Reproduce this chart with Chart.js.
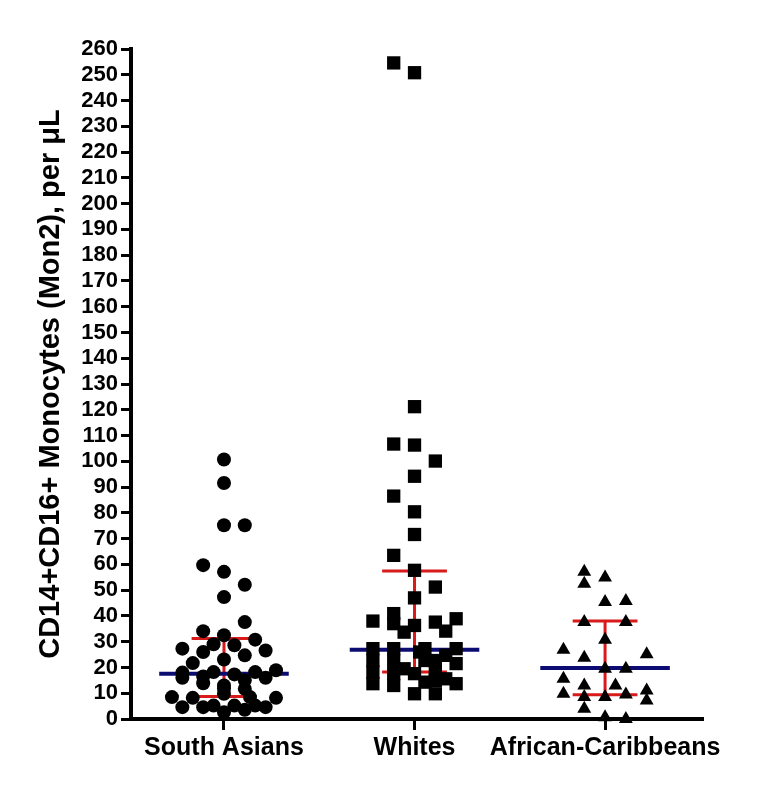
<!DOCTYPE html>
<html>
<head>
<meta charset="utf-8">
<script src="https://cdn.jsdelivr.net/npm/chart.js@4.4.1/dist/chart.umd.min.js"></script>
<style>
  html, body { margin: 0; padding: 0; background: #ffffff; }
  canvas { display: block; }
</style>
</head>
<body>
<canvas id="c" width="771" height="805"></canvas>
<script>
// ---- data ----
const categories = ["South Asians", "Whites", "African-Caribbeans"];
const yTicks = [0, 260, 10]; // min, max, step
const yTitle = "CD14+CD16+ Monocytes (Mon2), per \u03bcL";

// values (cells/µL) and horizontal jitter slots for each group
const southAsianValues = [100.7, 91.6, 75.2, 75.2, 59.7, 57.1, 52.1, 47.3, 37.6, 34.1, 32.5, 30.8, 27.3, 26.0, 29.0, 28.6, 26.6, 24.7, 23.1, 21.7, 18.0, 16.0, 16.5, 18.2, 17.3, 18.2, 18.9, 16.0, 13.9, 13.0, 15.0, 8.5, 8.2, 9.8, 8.5, 8.2, 4.6, 4.6, 5.2, 5.2, 3.6, 5.2, 4.6, 2.6, 11.8, 11.7];
const southAsianJitter = [0, 0, 0, 2, -2, 0, 2, 0, 2, -2, 0, 3, -4, -2, -1, 1, 4, 2, 0, -3, -4, -4, -2, -1, 1, 3, 5, 4, -2, 0, 2, -5, -3, 0, 2.5, 5, -4, -2, -1, 1, 2, 3, 4, 0, 0, 2];

const whiteValues = [254.6, 250.8, 121.2, 106.7, 106.3, 100.1, 94.2, 86.5, 80.4, 71.6, 63.5, 57.7, 51.2, 47.0, 38.0, 40.9, 37.0, 33.7, 36.3, 37.6, 38.9, 34.1, 27.3, 22.7, 18.2, 13.7, 27.3, 22.7, 17.6, 13.0, 17.6, 9.8, 27.3, 22.7, 14.3, 22.7, 17.6, 9.8, 27.3, 21.5, 13.7, 15.6, 19.5, 26.0, 24.7, 15.0];
const whiteJitter = [-2, 0, 0, -2, 0, 2, 0, -2, 0, 0, -2, 0, 2, 0, -4, -2, -2, -1, 0, 2, 4, 3, -4, -4, -4, -4, -2, -2, -2, -2, 0, 0, 1, 1, 1, 2, 2, 2, 4, 4, 4, 3, -1, 0.5, 3, 2];

const afroCaribbeanValues = [57.1, 52.5, 54.9, 45.4, 45.8, 37.6, 37.6, 30.8, 26.9, 23.8, 25.1, 19.5, 19.5, 15.6, 9.8, 13.0, 8.5, 4.0, 13.0, 8.5, 9.5, 11.1, 7.2, 0.7, 0.0];
const afroCaribbeanJitter = [-2, -2, 0, 0, 2, -2, 2, 0, -4, -2, 4, 0, 2, -4, -4, -2, -2, -2, 1, 0, 2, 4, 4, 0, 2];

// median and interquartile range per group
const medians = [17.6, 26.9, 19.8];
const q1 = [8.7, 18.2, 9.4];
const q3 = [31.2, 57.4, 38.0];

// ---- build datasets ----
const SLOT = 0.0546;      // jitter slot width in category units
const MED_HALF = 0.34;    // half width of median bar
const ERR_HALF = 0.17;    // half width of IQR caps

function pts(center, values, jitter) {
  return values.map((v, i) => ({ x: center + jitter[i] * SLOT, y: v }));
}

const pointSets = [
  { label: categories[0], data: pts(1, southAsianValues, southAsianJitter), pointStyle: 'circle', pointRadius: 7 },
  { label: categories[1], data: pts(2, whiteValues, whiteJitter), pointStyle: 'rect', pointRadius: 9.4 },
  { label: categories[2], data: pts(3, afroCaribbeanValues, afroCaribbeanJitter), pointStyle: 'triangle', pointRadius: 8 }
].map(d => Object.assign(d, {
  backgroundColor: '#000000', borderColor: '#000000', borderWidth: 0,
  pointHoverRadius: d.pointRadius, order: 0, clip: false
}));

const lineSets = [];
categories.forEach((cat, i) => {
  const c = i + 1;
  lineSets.push({
    label: cat + ' IQR', showLine: true, spanGaps: false,
    data: [
      { x: c - ERR_HALF, y: q3[i] }, { x: c + ERR_HALF, y: q3[i] }, { x: c, y: null },
      { x: c, y: q3[i] }, { x: c, y: q1[i] }, { x: c, y: null },
      { x: c - ERR_HALF, y: q1[i] }, { x: c + ERR_HALF, y: q1[i] }
    ],
    borderColor: '#d81a1a', borderWidth: 3, pointRadius: 0, order: 2, clip: false
  });
  lineSets.push({
    label: cat + ' median', showLine: true,
    data: [{ x: c - MED_HALF, y: medians[i] }, { x: c + MED_HALF, y: medians[i] }],
    borderColor: '#0b0b72', borderWidth: 4, pointRadius: 0, order: 1, clip: false
  });
});

const FONT = "'Liberation Sans', Arial, Helvetica, sans-serif";

new Chart(document.getElementById('c'), {
  type: 'scatter',
  data: { datasets: [...pointSets, ...lineSets] },
  options: {
    responsive: false,
    animation: false,
    events: [],
    layout: { padding: { left: 0, right: 68, top: 49, bottom: 0 } },
    plugins: { legend: { display: false }, tooltip: { enabled: false } },
    scales: {
      x: {
        type: 'linear',
        min: 0.512, max: 3.514,
        afterBuildTicks: (s) => { s.ticks = categories.map((_, i) => ({ value: i + 1 })); },
        afterFit: (s) => { s.height = 86; },
        ticks: {
          autoSkip: false, maxRotation: 0, padding: 3, color: '#000',
          callback: (v) => categories[Math.round(v) - 1] || '',
          font: { family: FONT, size: 25, weight: 'bold' }
        },
        grid: { drawOnChartArea: false, drawTicks: true, tickLength: 11, tickWidth: 3, tickColor: '#000' },
        border: { display: true, color: '#000', width: 4 }
      },
      y: {
        type: 'linear',
        min: yTicks[0], max: yTicks[1],
        afterFit: (s) => { s.width = 131; },
        ticks: {
          stepSize: yTicks[2], autoSkip: false, padding: 3, color: '#000',
          font: { family: FONT, size: 22, weight: 'bold' }
        },
        grid: { drawOnChartArea: false, drawTicks: true, tickLength: 10, tickWidth: 3, tickColor: '#000' },
        border: { display: true, color: '#000', width: 4 },
        title: {
          display: true, text: yTitle, color: '#000',
          padding: { top: 34, bottom: 0 },
          font: { family: FONT, size: 29, weight: 'bold' }
        }
      }
    }
  }
});
</script>
</body>
</html>
